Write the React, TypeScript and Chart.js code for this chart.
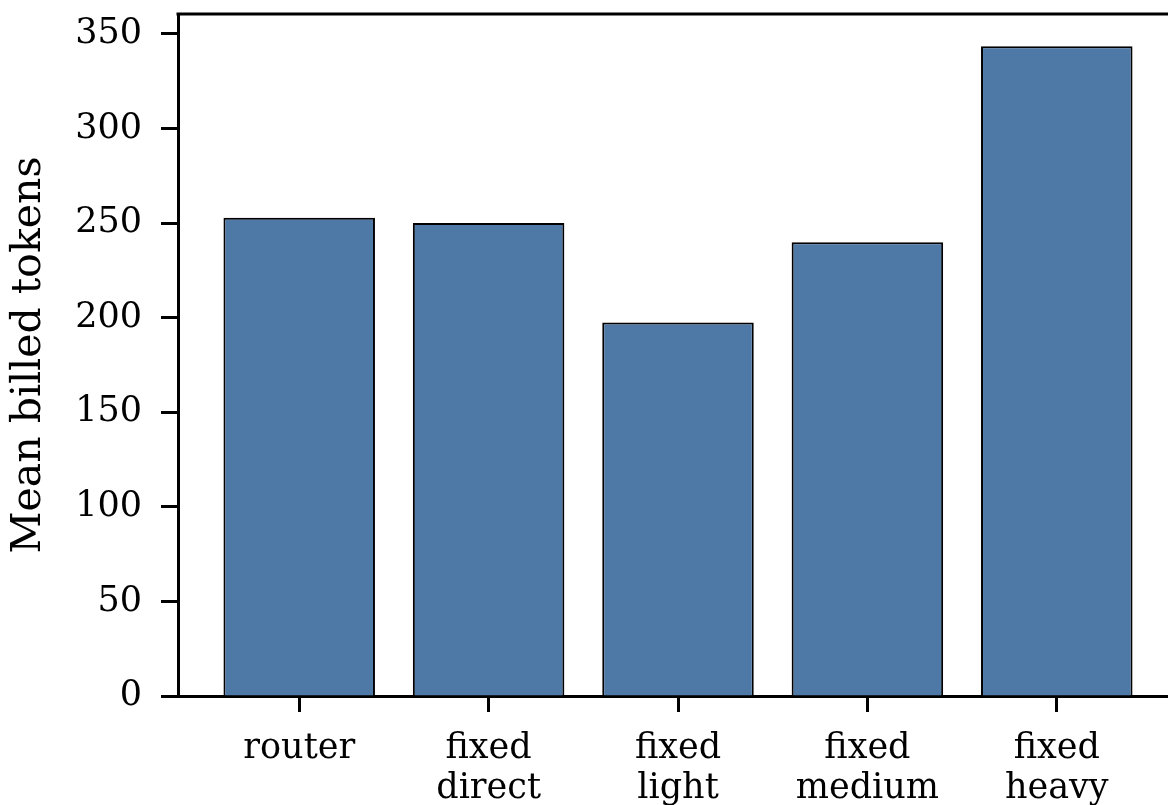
import React, { useEffect, useRef } from "react";
import { Chart, registerables } from "chart.js";

Chart.register(...registerables);

const categories: string[][] = [
  ["router"],
  ["fixed", "direct"],
  ["fixed", "light"],
  ["fixed", "medium"],
  ["fixed", "heavy"],
];
const meanBilledTokens: number[] = [252.8, 250, 197.4, 239.8, 343.5];
const yTicks: number[] = [0, 50, 100, 150, 200, 250, 300, 350];
const yTitle = "Mean billed tokens";

const FONT = "'DejaVu Serif', serif";

const topSpine = {
  id: "topSpine",
  afterDraw(chart: any) {
    const { ctx, chartArea } = chart;
    ctx.save();
    ctx.strokeStyle = "#000";
    ctx.lineWidth = 3;
    ctx.beginPath();
    ctx.moveTo(chartArea.left - 1.5, chartArea.top);
    ctx.lineTo(chartArea.right, chartArea.top);
    ctx.stroke();
    ctx.restore();
  },
};

export default function App() {
  const ref = useRef<HTMLCanvasElement>(null);
  useEffect(() => {
    const canvas = ref.current!;
    const chart = new Chart(canvas, {
      type: "bar",
      data: {
        datasets: [
          {
            data: meanBilledTokens.map((v, i) => ({ x: i, y: v })),
            backgroundColor: "#4e79a7",
            borderColor: "#000",
            borderWidth: 2,
            categoryPercentage: 1,
            barPercentage: 0.8,
          },
        ],
      },
      options: {
        animation: false,
        responsive: false,
        devicePixelRatio: 1,
        layout: { padding: { top: 14, right: 22, left: 0, bottom: 0 } },
        plugins: { legend: { display: false }, tooltip: { enabled: false } },
        scales: {
          x: {
            type: "linear",
            offset: false,
            min: -0.64,
            max: 4.64,
            afterBuildTicks: (scale: any) => {
              scale.ticks = categories.map((_, i) => ({ value: i }));
            },
            afterFit: (scale: any) => {
              scale.height = 109;
              scale.paddingLeft = 0;
              scale.paddingRight = 0;
            },
            grid: {
              offset: false,
              drawOnChartArea: false,
              drawTicks: true,
              tickLength: 16,
              tickWidth: 3,
              tickColor: "#000",
            },
            border: { display: true, color: "#000", width: 3 },
            ticks: {
              autoSkip: false,
              maxRotation: 0,
              minRotation: 0,
              padding: 17,
              color: "#000",
              font: { family: FONT, size: 35, lineHeight: 1.15 },
              callback: (value: any) => categories[Math.round(Number(value))] ?? "",
            },
          },
          y: {
            type: "linear",
            min: 0,
            max: 360.5,
            afterBuildTicks: (scale: any) => {
              scale.ticks = yTicks.map((v) => ({ value: v }));
            },
            afterFit: (scale: any) => {
              scale.width = 178;
              scale.paddingTop = 0;
              scale.paddingBottom = 0;
            },
            grid: {
              drawOnChartArea: false,
              drawTicks: true,
              tickLength: 17,
              tickWidth: 3,
              tickColor: "#000",
            },
            border: { display: true, color: "#000", width: 3 },
            ticks: {
              padding: 19,
              color: "#000",
              font: { family: FONT, size: 35 },
            },
            title: {
              display: true,
              text: yTitle,
              color: "#000",
              font: { family: FONT, size: 41, lineHeight: 1.2 },
              padding: { top: 5, bottom: 0 },
            },
          },
        },
      },
      plugins: [topSpine],
    });
    return () => chart.destroy();
  }, []);
  return (
    <div
      style={{
        position: "fixed",
        left: 0,
        top: 0,
        width: 1168,
        height: 805,
        overflow: "hidden",
        background: "#fff",
      }}
    >
      <canvas ref={ref} width={1200} height={805} style={{ display: "block" }} />
    </div>
  );
}
